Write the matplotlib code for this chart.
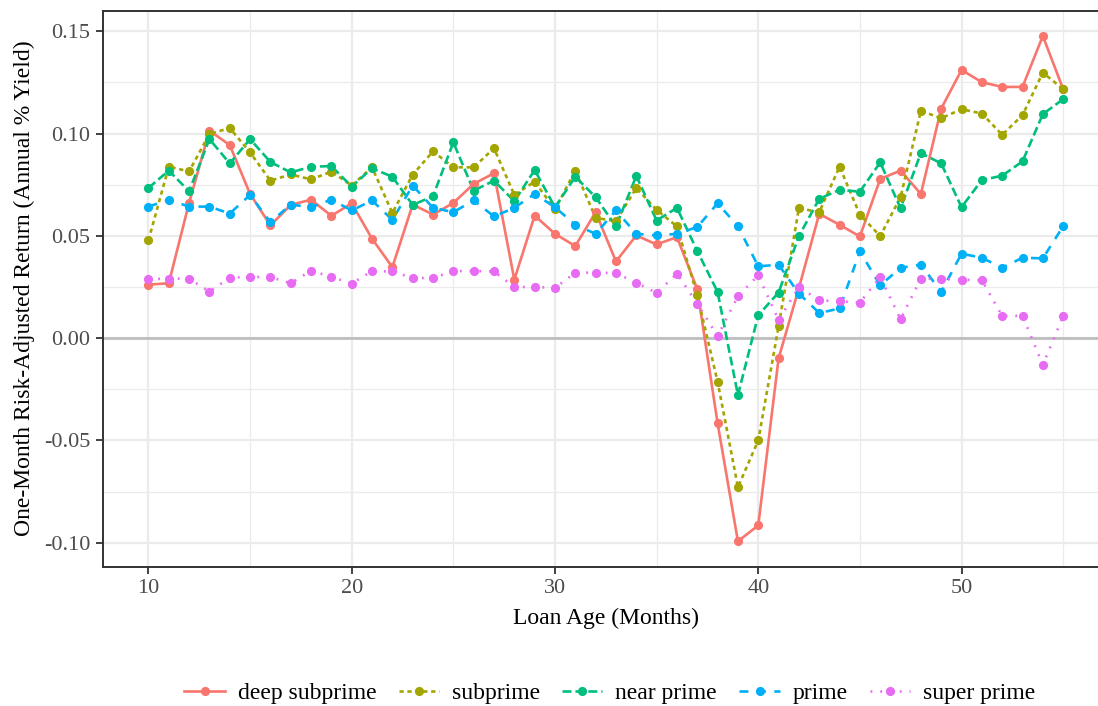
import numpy as np
import matplotlib.pyplot as plt
from matplotlib.lines import Line2D

plt.rcParams['font.family'] = ['Liberation Serif', 'DejaVu Serif']

# loan age in months
months = list(range(10, 56))

# one-month risk-adjusted return by credit tier
deep_subprime = [0.0262, 0.0268, 0.0661, 0.1014, 0.0944, 0.0705, 0.0551, 0.0651, 0.0677, 0.0598,
                 0.0659, 0.0486, 0.0347, 0.0653, 0.0604, 0.0661, 0.0754, 0.0806, 0.0286, 0.0599,
                 0.0510, 0.0450, 0.0616, 0.0375, 0.0502, 0.0458, 0.0494, 0.0239, -0.0416, -0.0993,
                 -0.0915, -0.0099, 0.0245, 0.0608, 0.0554, 0.0497, 0.0778, 0.0819, 0.0705, 0.1122,
                 0.1311, 0.1251, 0.1228, 0.1228, 0.1477, 0.1217]
subprime = [0.0478, 0.0838, 0.0815, 0.0998, 0.1027, 0.0908, 0.0770, 0.0800, 0.0776, 0.0814,
            0.0746, 0.0835, 0.0612, 0.0799, 0.0913, 0.0835, 0.0835, 0.0928, 0.0700, 0.0765,
            0.0629, 0.0819, 0.0588, 0.0572, 0.0734, 0.0627, 0.0546, 0.0210, -0.0213, -0.0728,
            -0.0500, 0.0058, 0.0635, 0.0616, 0.0838, 0.0603, 0.0499, 0.0689, 0.1111, 0.1075,
            0.1119, 0.1098, 0.0994, 0.1090, 0.1298, 0.1217]
near_prime = [0.0734, 0.0819, 0.0718, 0.0973, 0.0854, 0.0973, 0.0861, 0.0810, 0.0838, 0.0841,
              0.0741, 0.0830, 0.0789, 0.0651, 0.0694, 0.0957, 0.0721, 0.0770, 0.0669, 0.0822,
              0.0640, 0.0789, 0.0689, 0.0546, 0.0793, 0.0575, 0.0637, 0.0426, 0.0226, -0.0278,
              0.0112, 0.0223, 0.0499, 0.0681, 0.0725, 0.0716, 0.0859, 0.0635, 0.0905, 0.0854,
              0.0640, 0.0773, 0.0794, 0.0864, 0.1095, 0.1168]
prime = [0.0643, 0.0676, 0.0643, 0.0643, 0.0609, 0.0700, 0.0567, 0.0653, 0.0640, 0.0677,
         0.0624, 0.0673, 0.0578, 0.0746, 0.0637, 0.0616, 0.0673, 0.0595, 0.0637, 0.0705,
         0.0640, 0.0554, 0.0510, 0.0624, 0.0510, 0.0502, 0.0510, 0.0543, 0.0659, 0.0547,
         0.0351, 0.0359, 0.0218, 0.0123, 0.0145, 0.0424, 0.0258, 0.0344, 0.0359, 0.0226,
         0.0413, 0.0393, 0.0344, 0.0393, 0.0390, 0.0547]
super_prime = [0.0288, 0.0291, 0.0291, 0.0227, 0.0296, 0.0299, 0.0299, 0.0268, 0.0330, 0.0299,
               0.0267, 0.0328, 0.0326, 0.0294, 0.0294, 0.0328, 0.0328, 0.0326, 0.0250, 0.0250,
               0.0246, 0.0320, 0.0320, 0.0318, 0.0271, 0.0221, 0.0315, 0.0169, 0.0010, 0.0205,
               0.0307, 0.0088, 0.0250, 0.0185, 0.0180, 0.0174, 0.0299, 0.0093, 0.0291, 0.0291,
               0.0286, 0.0283, 0.0109, 0.0109, -0.0130, 0.0107]

tiers = ['deep subprime', 'subprime', 'near prime', 'prime', 'super prime']
colors = ['#F8766D', '#A3A500', '#00BF7D', '#00B0F6', '#E76BF3']
# ggplot style linetypes: solid, 22, 42, 44, 13
styles = ['-', (0, (1.6, 1.4)), (0, (3.4, 1.5)), (0, (3.4, 3.2)), (0, (0.7, 3.0))]

xticks = [10, 20, 30, 40, 50]
yticks = [-0.10, -0.05, 0.00, 0.05, 0.10, 0.15]
ytick_labels = ['-0.10', '-0.05', '0.00', '0.05', '0.10', '0.15']

W, H = 1098, 706
fig = plt.figure(figsize=(W / 100, H / 100), dpi=100)
# panel runs a little past the right edge of the canvas
ax = fig.add_axes([102.7 / W, (H - 566.7) / H, (1108.9 - 102.7) / W, (566.7 - 10.6) / H])

ax.set_xlim(7.75, 57.25)
ax.set_ylim(-0.1117, 0.1601)

# grid, theme_bw-ish
ax.set_xticks(xticks)
ax.set_xticks([15, 25, 35, 45, 55], minor=True)
ax.set_yticks(yticks, labels=ytick_labels)
ax.set_yticks([-0.075, -0.025, 0.025, 0.075, 0.125], minor=True)
ax.grid(which='major', color='#EBEBEB', lw=1.6)
ax.grid(which='minor', color='#EBEBEB', lw=0.9)
ax.set_axisbelow(True)
ax.tick_params(which='major', length=5, width=1.3, color='#333333',
               labelcolor='#4D4D4D', labelsize=16, pad=4)
ax.tick_params(which='minor', length=0)
for sp in ax.spines.values():
    sp.set_color('#333333')
    sp.set_linewidth(1.4)

ax.axhline(0, color='#BEBEBE', lw=2.0, zorder=1)

all_series = [deep_subprime, subprime, near_prime, prime, super_prime]
handles = []
for vals, name, col, ls in zip(all_series, tiers, colors, styles):
    ax.plot(months, vals, color=col, ls=ls, lw=1.9, zorder=2)
    ax.plot(months, vals, 'o', color=col, ms=6.6, mec='none', zorder=3)
    handles.append(Line2D([0], [0], color=col, ls=ls, lw=1.9, marker='o', ms=6.6, mec='none'))

ax.set_xlabel('Loan Age (Months)', fontsize=17, labelpad=7)
ax.set_ylabel('One-Month Risk-Adjusted Return (Annual % Yield)', fontsize=17, labelpad=6)

fig.legend(handles, tiers, loc='center', bbox_to_anchor=(610 / W, 13 / H), ncol=5,
           frameon=False, fontsize=17, handlelength=1.7, columnspacing=0.95,
           handletextpad=0.55)

fig.savefig('out.png', dpi=100)
